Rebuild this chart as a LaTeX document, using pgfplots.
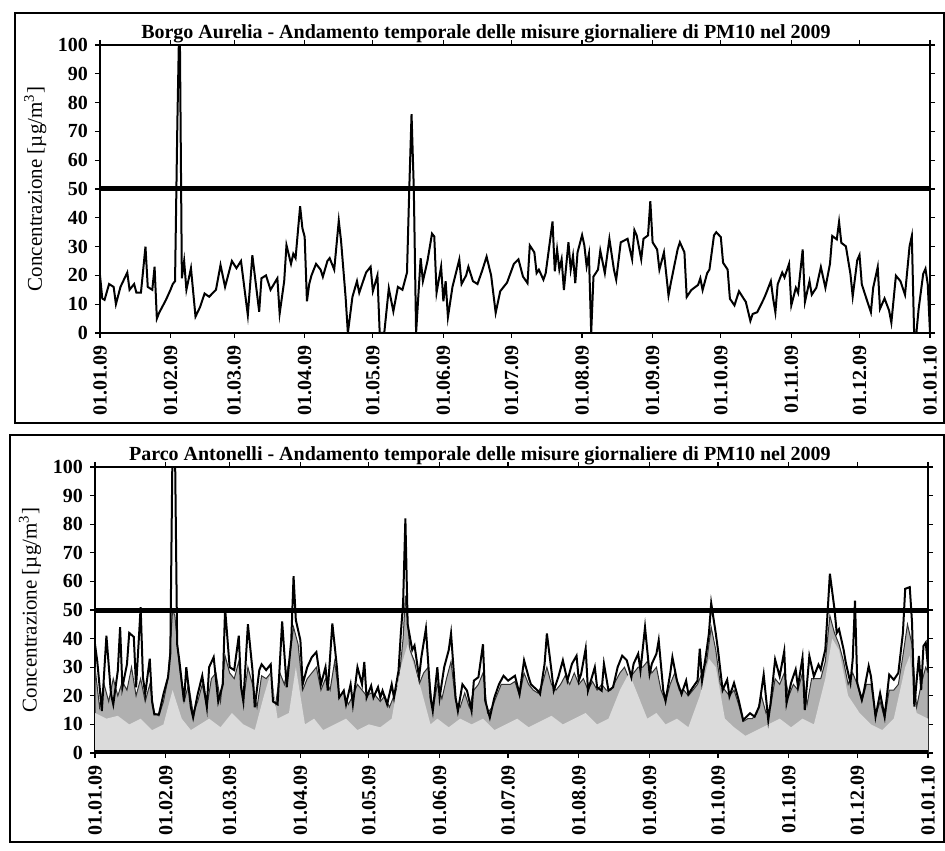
\documentclass[border=0pt]{standalone}
\usepackage{fontspec}
\setmainfont{Liberation Serif}
\usepackage{pgfplots}
\pgfplotsset{compat=1.18}

\pgfplotsset{
  pmpanel/.style={
    scale only axis,
    anchor=south west,
    xmin=0, xmax=365, ymin=0, ymax=100,
    xtick={0,31,59,90,120,151,181,212,243,273,304,334,365},
    xticklabels={01.01.09,01.02.09,01.03.09,01.04.09,01.05.09,01.06.09,01.07.09,01.08.09,01.09.09,01.10.09,01.11.09,01.12.09,01.01.10},
    ytick={0,10,...,100},
    tick align=outside,
    major tick length=2.5pt,
    tick style={black, line width=0.6pt},
    axis line style={line width=0.6pt},
    /pgf/number format/assume math mode=true,
    ticklabel style={font=\bfseries\fontsize{10}{12}\selectfont},
    x tick label style={rotate=90, anchor=east},
    ylabel={Concentrazione [µg/m\textsuperscript{3}]},
    ylabel style={font=\fontsize{10.5}{12}\selectfont, at={(axis description cs:-0.078,0.5)}, anchor=center},
    title style={font=\bfseries\fontsize{10}{12}\selectfont, anchor=base, yshift=-3pt},
  }
}

\begin{document}
\begin{tikzpicture}
\useasboundingbox (0pt,0pt) rectangle (472.5pt,425pt);

% panel frames
\draw[line width=0.6pt] (7.5pt,213.5pt) rectangle (472pt,418.5pt);
\draw[line width=0.6pt] (5pt,4pt) rectangle (472pt,207.5pt);

% ---------- Borgo Aurelia ----------
\begin{axis}[pmpanel,
  at={(50pt,258.5pt)}, width=415pt, height=144pt,
  title={Borgo Aurelia - Andamento temporale delle misure giornaliere di PM10 nel 2009},
  title style={at={(0.465,1)}},
]
\addplot[black, line width=1pt] coordinates {
(0,20)(1,12)(2,11.5)(4,17)(6,16)(7,10)(9,16)(12,21)(13,15)(15,17)(16,14)(18,14)(20,30)(21,16)(23,15)(24,23)(25,5)(26,7)(29,11.5)(31,15)(32,17)(33,18)(34,72)(35,115)(36,19)(37,25)(38,15)(40,22.5)(42,5.7)(44,9)(46,13.7)(48,12.6)(51,15)(53,23.6)(55,16)(58,25)(60,22.5)(62,25)(65,6.2)(67,27)(70,7.4)(71,19)(73,20)(75,15)(78,19)(79,6.7)(81,18)(82,30.5)(84,24)(85,27.5)(86,26)(88,44)(89,36.4)(90,33.4)(91,11)(92,17)(93,20)(95,24)(97,22)(98,19.5)(100,25)(101,26)(103,22)(105,39)(106,32)(108,12.5)(109,0)(111,12.5)(113,18)(114,14)(117,21)(119,23)(120,14.5)(122,20)(123,0)(125,0)(127,15.5)(129,7.5)(131,16)(133,15)(135,21)(136,50)(137,76)(138,50)(139,0)(141,26)(142,18)(144,25)(146,34.5)(147,33.5)(148,14)(150,23)(151,11)(152,18)(153,5.5)(155,16)(158,25.5)(159,17)(161,20)(162,23)(164,18)(166,17)(168,21.5)(170,26.5)(172,20)(174,7)(176,14.5)(179,17.5)(182,24)(184,25.6)(186,19.6)(188,17.3)(189,30.4)(191,28)(192,20.8)(193,22)(195,18.5)(196,20.8)(198,32.7)(199,38.7)(200,21.4)(201,29)(202,22)(203,25.6)(204,14.9)(206,31.5)(207,22)(208,26.8)(209,17.3)(210,28)(212,34)(213,30.4)(214,23.2)(215,27.4)(216,0)(217,19.6)(219,22)(220,28.6)(222,20.8)(224,32.7)(226,22)(227,18.5)(229,31.5)(232,32.7)(234,25.6)(235,35.7)(236,33.9)(238,25.6)(239,32.7)(241,33.9)(242,45.8)(243,31.5)(245,29)(246,22)(248,28)(250,13)(251,17.3)(254,29)(255,31.5)(257,28)(258,12.5)(260,14.9)(263,16.7)(264,19)(265,14.9)(267,20.8)(268,22)(270,33.9)(271,35)(273,33.3)(274,24.4)(276,22)(277,11.9)(279,9.6)(281,14.5)(283,12)(284,10.8)(286,4.2)(287,6.6)(289,7.2)(292,12)(293,13.9)(295,18)(296,12)(297,7.2)(298,16.9)(300,21)(301,19.3)(303,24)(304,9.6)(306,15.7)(307,13.9)(309,29)(310,10.8)(312,18)(313,13.3)(315,15.7)(317,22.9)(319,15.7)(321,24)(322,33.7)(324,32.5)(325,38.6)(326,31.3)(328,30.1)(330,20.5)(331,12.7)(333,25.3)(334,27.1)(335,16.9)(337,12)(339,7.2)(340,15.7)(342,22.9)(343,8.4)(345,12)(347,7.8)(348,3.6)(350,19.9)(352,18)(354,13.3)(356,30.1)(357,33.7)(358,0)(359,0)(360,8.4)(362,20.5)(363,22.3)(364,16.9)(365,0)
};
\addplot[black, line width=2.5pt] coordinates {(0,50)(365,50)};
\end{axis}

% ---------- Parco Antonelli ----------
\begin{axis}[pmpanel,
  at={(47.5pt,48.5pt)}, width=416.5pt, height=143pt,
  title={Parco Antonelli - Andamento temporale delle misure giornaliere di PM10 nel 2009},
  title style={at={(0.462,1)}},
]
% darker area
\addplot[draw=gray!40!black, line width=0.5pt, fill=gray!62] coordinates {
(0,30)(2,16)(4,24)(6,18)(8,26)(10,20)(12,25)(14,22)(16,30)(18,20)(20,26)(22,18)(24,24)(26,14)(28,13)(30,18)(32,26)(34,50)(35,48)(37,30)(39,18)(41,24)(43,14)(45,18)(47,24)(49,16)(51,26)(53,28)(55,18)(57,34)(59,28)(61,26)(63,32)(65,18)(67,30)(69,24)(71,16)(73,27)(75,26)(77,28)(79,16)(81,28)(83,24)(85,32)(87,44)(89,38)(91,22)(93,26)(95,28)(97,30)(99,22)(101,26)(103,22)(105,32)(107,20)(109,21)(111,17)(113,20)(115,24)(117,22)(119,20)(121,21)(123,20)(125,18)(127,20)(129,16)(131,20)(133,24)(135,40)(136,55)(138,36)(140,32)(142,24)(144,28)(146,30)(148,15)(150,24)(152,19)(154,26)(156,32)(158,18)(160,16)(162,21)(164,16)(166,22)(168,24)(170,28)(172,14)(174,16)(176,20)(178,24)(180,24)(182,24)(184,25)(186,20)(188,28)(190,24)(192,22)(194,21)(196,24)(198,30)(200,24)(202,22)(204,24)(206,27)(208,24)(210,28)(212,24)(214,26)(216,22)(218,25)(220,22)(222,24)(224,22)(226,22)(228,25)(230,28)(232,30)(234,26)(236,28)(238,30)(240,30)(242,32)(244,28)(246,30)(248,22)(250,18)(252,24)(254,28)(256,22)(258,22)(260,20)(262,22)(264,24)(266,28)(268,32)(270,44)(272,36)(274,24)(276,22)(278,20)(280,22)(282,17)(284,11)(286,12)(288,12)(290,14)(292,20)(294,14)(296,16)(298,26)(300,24)(302,28)(304,20)(306,24)(308,22)(310,28)(312,17)(314,26)(316,26)(318,26)(320,32)(322,48)(324,42)(326,38)(328,32)(330,24)(332,28)(334,24)(336,18)(338,24)(340,24)(342,13)(344,18)(346,12)(348,22)(350,22)(352,24)(354,34)(356,45)(358,38)(360,16)(362,24)(364,30)(365,28)
} \closedcycle;
% lighter area
\addplot[draw=none, fill=gray!28] coordinates {
(0,14)(5,12)(10,13)(15,10)(20,12)(25,8)(30,10)(34,22)(38,12)(42,8)(46,10)(50,12)(55,9)(60,14)(65,10)(70,8)(74,20)(77,28)(80,12)(85,14)(88,30)(92,10)(96,12)(100,8)(105,10)(110,12)(115,8)(120,10)(125,9)(130,12)(134,30)(137,38)(140,30)(143,22)(147,10)(150,12)(155,9)(160,12)(165,10)(170,12)(175,8)(180,10)(185,12)(190,9)(195,11)(200,13)(205,10)(210,12)(215,14)(220,10)(225,12)(230,22)(234,28)(238,20)(242,12)(246,14)(250,10)(255,12)(260,9)(265,20)(269,33)(272,30)(276,12)(280,9)(285,6)(290,8)(295,10)(300,12)(305,9)(310,12)(315,10)(320,26)(323,40)(326,36)(330,20)(335,14)(340,10)(345,8)(350,12)(355,30)(357,34)(360,14)(365,12)
} \closedcycle;
% daily values
\addplot[black, line width=1pt] coordinates {
(0,38)(1,32)(3,14.7)(5,41)(7,20.6)(8,17)(10,28.8)(11,44)(12,23)(14,31)(15,42)(17,40.6)(18,23)(20,51)(21,26.5)(22,20.6)(24,33)(25,18)(26,13.5)(28,13.5)(30,20.6)(32,26.5)(33,34.7)(34,110)(35,110)(36,38)(37,32)(39,18)(40,30)(42,16)(43,12.4)(45,20.6)(47,27)(49,16)(50,30)(52,33.5)(54,18)(56,24)(57,50.6)(59,30)(61,29)(63,41)(64,23)(65,18)(67,45)(69,29)(70,16)(72,29)(73,31)(75,29)(77,31)(78,18)(80,17)(82,46)(84,23)(86,39.4)(87,61.8)(88,46.5)(90,39.4)(91,24)(93,30)(95,33.5)(97,35.3)(99,24)(101,30)(102,21.8)(104,45.3)(106,30)(107,19.4)(109,21.8)(110,17)(112,24)(113,17)(115,30)(117,24)(118,31.8)(119,19.4)(121,23.5)(122,19.4)(124,23)(125,19.4)(126,21.8)(128,17)(130,24)(131,19.4)(133,28.8)(134,41.8)(135,52.4)(136,82)(137,45)(139,36)(140,37.6)(142,26.5)(143,33.5)(145,43.5)(147,19.4)(148,14.7)(150,30)(151,19.4)(153,30)(155,36)(156,41.8)(158,19.4)(159,14.7)(161,24)(163,21.8)(165,14.7)(166,25.3)(168,26.5)(170,38)(171,18.2)(173,12.4)(175,19.4)(177,24)(179,27)(181,25.3)(184,27)(186,20.6)(188,32.4)(190,26.5)(191,24)(194,21.8)(195,20.6)(197,31.2)(198,41.8)(200,28.8)(201,21.8)(203,26.5)(205,32.4)(207,25.3)(209,31.2)(211,34)(212,25.3)(213,27.6)(215,36.5)(216,21.8)(219,30)(220,23)(222,21.8)(223,31.2)(225,21.8)(227,23)(229,30)(231,34)(233,32.4)(235,26.5)(236,31.2)(238,34.7)(239,28.8)(241,44)(243,27.6)(244,31.2)(246,34.7)(247,39.4)(249,21.8)(250,18.2)(252,27.6)(253,33.5)(255,25.3)(257,20.6)(259,25.3)(260,20.6)(262,23)(264,25.3)(265,36.5)(266,25.3)(268,35.9)(269,41.8)(270,52.4)(272,41.8)(273,35.9)(275,22)(277,25.6)(278,19.8)(280,24.5)(282,18.6)(284,11.5)(287,13.9)(289,12.7)(291,16.2)(293,27.4)(295,11.5)(296,17.4)(298,32.7)(300,26.8)(302,35.6)(303,17.4)(305,24.5)(307,29.2)(308,23.3)(310,33.3)(311,15)(313,33.9)(315,26.8)(317,30.9)(318,29.2)(320,36.2)(321,49.2)(322,62.7)(324,50.4)(325,42)(326,43.3)(328,36.2)(329,31.5)(331,24.5)(332,32.7)(333,53.3)(334,24.5)(336,18.6)(337,22)(339,30.4)(340,26.8)(342,12.7)(344,20.9)(346,12.7)(348,27.4)(350,25.6)(352,28)(354,42)(355,57.4)(357,58)(358,45.6)(359,16.2)(361,33.9)(362,22)(363,37.4)(364,38.6)(365,30)
};
\addplot[black, line width=2.5pt] coordinates {(0,50)(365,50)};
\addplot[black, line width=3pt] coordinates {(0,0)(365,0)};
\end{axis}
\end{tikzpicture}
\end{document}
